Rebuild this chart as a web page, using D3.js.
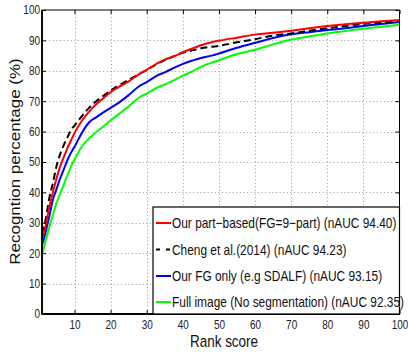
<!DOCTYPE html>
<html><head><meta charset="utf-8">
<script src="https://cdn.jsdelivr.net/npm/d3@7"></script>
<style>
html,body{margin:0;padding:0;background:#fff;}
svg{display:block;font-family:"Liberation Sans",Arial,sans-serif;}
</style></head>
<body>
<svg id="chart" width="408" height="352"></svg>
<script>
const ranks = [1,2,3,4,5,6,7,8,9,10,12,14,16,18,20,22,25,28,30,33,35,38,40,43,45,48,50,55,60,65,70,75,80,85,90,95,100];
const partBased = [24.5,29,35,40,44.5,48.5,51.5,54.5,57,59.5,63.5,66.5,69,71,73,74.5,76.5,79,80.3,82.5,83.7,85,86.1,87.5,88.4,89.4,89.9,90.9,91.9,92.5,93.2,94,94.7,95.3,95.8,96.3,96.7];
const cheng = [26.5,31,38,43,48.5,52.5,55.5,58,60.5,62,65,67.8,70,71.8,73.5,75,77,79,80.3,82.3,83.5,85,86,86.8,87.4,87.9,88.2,89.4,90.4,91.6,92.3,93.2,94,94.7,95.4,95.9,96.4];
const fgOnly = [22.5,27,32,37.5,41,44.5,47.5,50.5,53,55,59.5,63,64.7,66.3,67.8,69.3,72,75,76.3,78.5,79.5,81.2,82.3,83.5,84.2,85,85.7,87.6,89.2,90.8,92,92.7,93.4,94,94.7,95.4,96];
const fullImage = [19.5,24,28.5,32.5,36.5,39.5,42.5,45.5,48.5,50.8,55,57.7,59.8,61.7,63.7,65.5,68.3,71.3,72.5,74.5,75.5,77.2,78.4,80,81.3,82.7,83.5,85.5,86.9,88.7,90.3,91.3,92.3,93.1,93.8,94.5,95.1];
const seriesNames = ["Our part\u2212based(FG=9\u2212part) (nAUC 94.40)","Cheng et al.(2014) (nAUC 94.23)","Our FG only (e.g SDALF) (nAUC 93.15)","Full image (No segmentation) (nAUC 92.35)"];
const seriesColors = ["#ff0000","#000000","#0000ff","#00ff00"];
const seriesDash = [null,"7,4",null,null];
const xTicks = [10,20,30,40,50,60,70,80,90,100];
const yTicks = [0,10,20,30,40,50,60,70,80,90,100];
const xLabel = "Rank score";
const yLabel = "Recogntion percentage (%)";

const series = [partBased, cheng, fgOnly, fullImage];
const svg = d3.select("#chart");
const L = 42, R = 399.5, T = 10, B = 314;
const x = d3.scaleLinear().domain([1,100]).range([L,R]);
const y = d3.scaleLinear().domain([0,100]).range([B,T]);
const SY = 1.2;

// grid
const grid = svg.append("g").attr("stroke","#9a9a9a").attr("stroke-width",1).attr("stroke-dasharray","1,2.6");
xTicks.filter(t=>t<100).forEach(t=>grid.append("line").attr("x1",Math.round(x(t))+0.5).attr("x2",Math.round(x(t))+0.5).attr("y1",T).attr("y2",B));
yTicks.filter(t=>t>0&&t<100).forEach(t=>grid.append("line").attr("x1",L).attr("x2",R).attr("y1",Math.round(y(t))+0.5).attr("y2",Math.round(y(t))+0.5));

// curves
const line = d3.line().x((d,i)=>x(ranks[i])).y(d=>y(d)).curve(d3.curveMonotoneX);
series.slice().reverse().forEach((s,k)=>{
  const i = series.length-1-k;
  const p = svg.append("path").datum(s).attr("d",line).attr("fill","none")
    .attr("stroke",seriesColors[i]).attr("stroke-width",2);
  if(seriesDash[i]) p.attr("stroke-dasharray",seriesDash[i]);
});

// axes
const ax = svg.append("g").attr("transform",`translate(0,${B})`)
  .call(d3.axisBottom(x).tickValues(xTicks).tickSize(-4).tickPadding(5.5));
const ay = svg.append("g").attr("transform",`translate(${L},0)`)
  .call(d3.axisLeft(y).tickValues(yTicks).tickSize(-4).tickPadding(2));
const at = svg.append("g").attr("transform",`translate(0,${T})`)
  .call(d3.axisTop(x).tickValues(xTicks).tickSize(-4).tickFormat(""));
const ar = svg.append("g").attr("transform",`translate(${R},0)`)
  .call(d3.axisRight(y).tickValues(yTicks).tickSize(-4).tickFormat(""));
[ax,ay,at,ar].forEach(g=>{g.select(".domain").remove(); g.selectAll(".tick line").attr("stroke","#000");});
[ax,ay].forEach(g=>g.selectAll("text").attr("font-size",10).attr("fill","#222")
  .attr("font-family","Liberation Sans, Arial, sans-serif").attr("transform",`scale(1,${SY})`));

// frame
svg.append("rect").attr("x",L).attr("y",T).attr("width",R-L).attr("height",B-T).attr("fill","none").attr("stroke","#000").attr("stroke-width",1);
svg.append("line").attr("x1",L).attr("x2",L).attr("y1",T).attr("y2",B+0.8).attr("stroke","#000").attr("stroke-width",1.8);
svg.append("line").attr("x1",L).attr("x2",R).attr("y1",B).attr("y2",B).attr("stroke","#000").attr("stroke-width",1.8);

// axis labels
svg.append("text").attr("transform",`translate(224,347) scale(1,1.22)`).attr("text-anchor","middle")
  .attr("font-size",13.5).attr("fill","#111").text(xLabel);
svg.append("text").attr("transform",`translate(20,161.5) rotate(-90) scale(1.17,1)`).attr("text-anchor","middle")
  .attr("font-size",14.5).attr("fill","#111").text(yLabel);

// legend
const lg = svg.append("g");
lg.append("rect").attr("x",153).attr("y",207).attr("width",R-153).attr("height",B-207)
  .attr("fill","#fff").attr("stroke","#000").attr("stroke-width",1.2);
const rowY = [223,249.5,276,302];
seriesNames.forEach((n,i)=>{
  const l = lg.append("line").attr("x1",156).attr("x2",171).attr("y1",rowY[i]).attr("y2",rowY[i])
    .attr("stroke",seriesColors[i]).attr("stroke-width",2);
  if(seriesDash[i]) l.attr("stroke-dasharray","4,6");
  lg.append("text").attr("transform",`translate(172,${rowY[i]}) scale(1,1.22)`).attr("dy","0.36em")
    .attr("font-size",11.9).attr("fill","#111").text(n);
});
</script>
</body></html>
